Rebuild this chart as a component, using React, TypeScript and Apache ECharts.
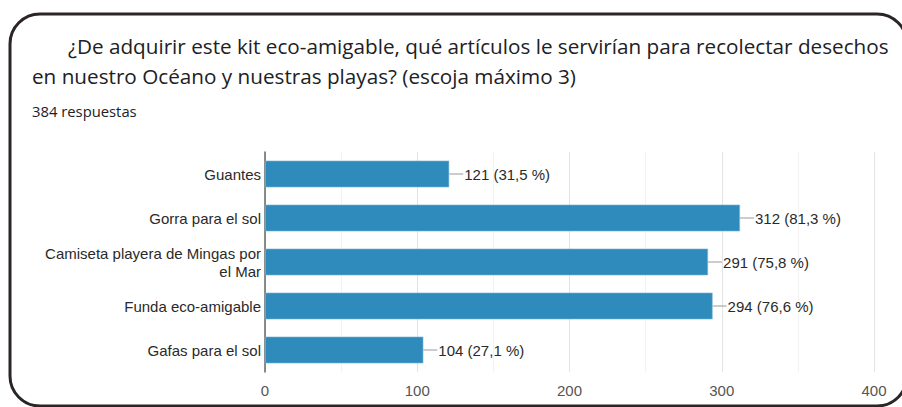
import React, { useEffect, useRef } from "react";
import * as echarts from "echarts";

const titleLine1 = "¿De adquirir este kit eco-amigable, qué artículos le servirían para recolectar desechos";
const titleLine2 = "en nuestro Océano y nuestras playas? (escoja máximo 3)";
const responsesText = "384 respuestas";

const categories = [
  "Guantes",
  "Gorra para el sol",
  "Camiseta playera de Mingas por\nel Mar",
  "Funda eco-amigable",
  "Gafas para el sol",
];
const counts = [121, 312, 291, 294, 104];
const percents = ["31,5", "81,3", "75,8", "76,6", "27,1"];
const xTicks = { min: 0, max: 400, interval: 100 };

const labelFont = "Liberation Sans, Arial, sans-serif";

export default function App() {
  const ref = useRef<HTMLDivElement>(null);
  useEffect(() => {
    if (!ref.current) return;
    const chart = echarts.init(ref.current, null, { renderer: "svg" });
    chart.setOption({
      animation: false,
      backgroundColor: "#ffffff",
      grid: { left: 265, right: 28, top: 152, bottom: 35, containLabel: false },
      xAxis: {
        type: "value",
        min: xTicks.min,
        max: xTicks.max,
        interval: xTicks.interval,
        axisLine: { show: false },
        axisTick: { show: false },
        axisLabel: {
          color: "#555",
          fontSize: 15,
          fontFamily: labelFont,
          margin: 11,
        },
        splitLine: { show: true, lineStyle: { color: "#e4e4e4", width: 1 } },
        minorTick: { show: false, splitNumber: 2 },
        minorSplitLine: { show: true, lineStyle: { color: "#f2f2f2", width: 1 } },
      },
      yAxis: {
        type: "category",
        data: categories,
        inverse: true,
        axisLine: { show: true, lineStyle: { color: "#666", width: 1.5 } },
        axisTick: { show: false },
        axisLabel: {
          color: "#2a2a2a",
          fontSize: 15,
          fontFamily: labelFont,
          margin: 4,
          lineHeight: 18,
          align: "right",
        },
        splitLine: { show: false },
      },
      series: [
        {
          type: "bar",
          data: counts,
          barWidth: "61%",
          itemStyle: { color: "#2f8bbb", borderColor: "#8ac0dc", borderWidth: 0.6 },
          label: {
            show: true,
            position: "right",
            distance: 0,
            formatter: (p: any) => `{l|}{t|${p.value} (${percents[p.dataIndex]} %)}`,
            rich: {
              l: { width: 14, height: 1, backgroundColor: "#999", verticalAlign: "middle" },
              t: {
                color: "#2a2a2a",
                fontSize: 15,
                fontFamily: labelFont,
                padding: [0, 0, 0, 1],
              },
            },
          },
        },
      ],
      graphic: [
        {
          type: "rect",
          shape: { x: 10, y: 14, width: 897, height: 392, r: 30 },
          style: { fill: "none", stroke: "#2b2525", lineWidth: 3 },
          silent: true,
        },
        {
          type: "text",
          left: 68,
          top: 35,
          style: {
            text: titleLine1,
            fill: "#202124",
            font: "20.7px 'Open Sans', Roboto, sans-serif",
          },
        },
        {
          type: "text",
          left: 32,
          top: 65,
          style: {
            text: titleLine2,
            fill: "#202124",
            font: "20.7px 'Open Sans', Roboto, sans-serif",
          },
        },
        {
          type: "text",
          left: 32,
          top: 103,
          style: {
            text: responsesText,
            fill: "#202124",
            font: "14.8px 'Open Sans', Roboto, sans-serif",
          },
        },
      ],
    });
    return () => chart.dispose();
  }, []);
  return (
    <div
      ref={ref}
      style={{ position: "fixed", left: 0, top: 0, width: 902, height: 407 }}
    />
  );
}
